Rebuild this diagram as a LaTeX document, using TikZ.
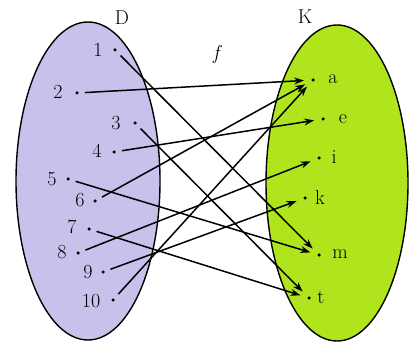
\documentclass[tikz,border=0pt]{standalone}
\usetikzlibrary{arrows.meta}
\definecolor{lav}{RGB}{198,194,236}
\definecolor{lime}{RGB}{176,229,30}
\begin{document}
\begin{tikzpicture}[x=1pt,y=-1pt,
  lbl/.style={inner sep=0pt,font=\fontsize{20}{22}\selectfont},
  pt/.style={circle,fill=black,inner sep=0pt,minimum size=3.5pt},
  mapto/.style={line width=1.5pt,-{Stealth[length=10pt,width=7pt]},shorten <=6pt,shorten >=7pt}]
\useasboundingbox (0,0) rectangle (411,344);
\fill[white] (0,0) rectangle (411,344);
\draw[line width=1.4pt,fill=lav] (88,181) ellipse [x radius=72,y radius=159];
\draw[line width=1.4pt,fill=lime] (337,183) ellipse [x radius=71,y radius=158];
% set labels
\node[lbl] (D) at (122,18) {D};
\node[lbl] (K) at (305,17) {K};
\node[lbl] (f) at (216,55) {\itshape f};
% domain points
\node[pt] (d1) at (115,50) {};
\node[pt] (d2) at (77,93) {};
\node[pt] (d3) at (135,123) {};
\node[pt] (d4) at (114,152) {};
\node[pt] (d5) at (68,179) {};
\node[pt] (d6) at (95,201) {};
\node[pt] (d7) at (89,229) {};
\node[pt] (d8) at (78,253) {};
\node[pt] (d9) at (103,272) {};
\node[pt] (d10) at (113,300) {};
\node[lbl] at (98,50) {1};
\node[lbl] at (58,92) {2};
\node[lbl] at (116,123) {3};
\node[lbl] at (97,151) {4};
\node[lbl] at (52,179) {5};
\node[lbl] at (80,200) {6};
\node[lbl] at (72,227) {7};
\node[lbl] at (62,252) {8};
\node[lbl] at (88,272) {9};
\node[lbl] at (91,301) {10};
% codomain points
\node[pt] (ka) at (313,80) {};
\node[pt] (ke) at (323,119) {};
\node[pt] (ki) at (319,158) {};
\node[pt] (kk) at (305,198) {};
\node[pt] (km) at (319,255) {};
\node[pt] (kt) at (309,298) {};
\node[lbl] at (333,79) {a};
\node[lbl] at (343,119) {e};
\node[lbl] at (334,157) {i};
\node[lbl] at (320,198) {k};
\node[lbl] at (340,254) {m};
\node[lbl] at (321,297) {t};
% mapping
\draw[mapto] (d1) -- (km);
\draw[mapto] (d2) -- (ka);
\draw[mapto] (d3) -- (kt);
\draw[mapto] (d4) -- (ke);
\draw[mapto] (d5) -- (km);
\draw[mapto] (d6) -- (ka);
\draw[mapto] (d7) -- (kt);
\draw[mapto] (d8) -- (ki);
\draw[mapto] (d9) -- (kk);
\draw[mapto] (d10) -- (ka);
\end{tikzpicture}
\end{document}
